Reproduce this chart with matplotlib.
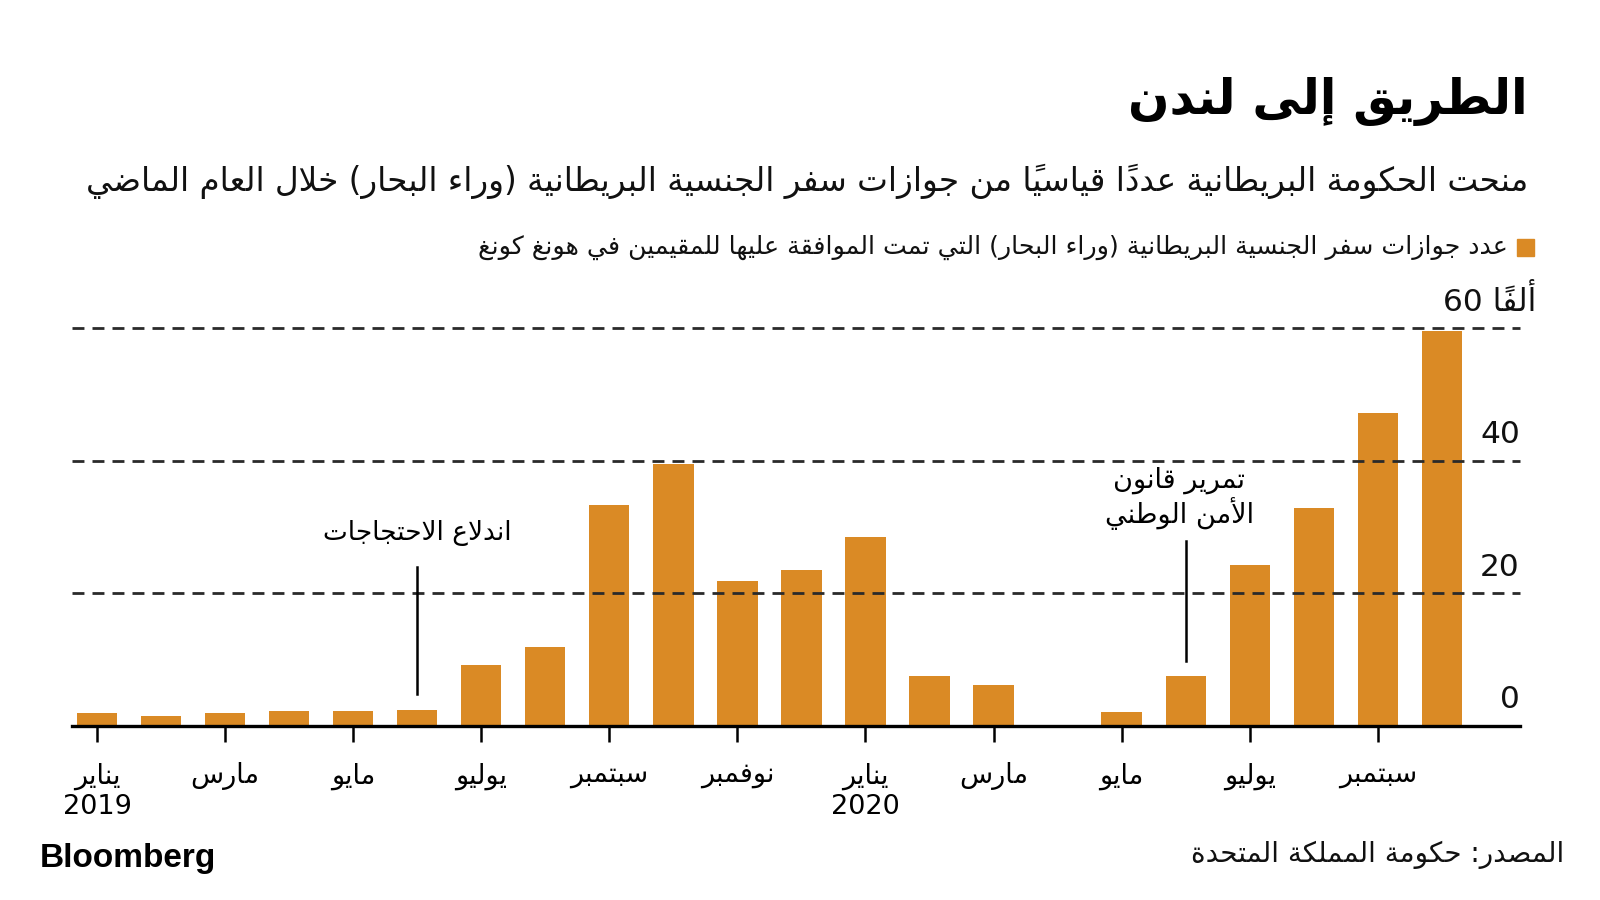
import matplotlib
matplotlib.use('Agg')
import matplotlib.pyplot as plt
from matplotlib.patches import Rectangle

plt.rcParams['font.family'] = ['DejaVu Sans']
plt.rcParams['lines.scale_dashes'] = False

# data (thousands of passports per month, Jan 2019 .. Oct 2020)
months = list(range(22))
approved = [1.9, 1.5, 1.9, 2.2, 2.2, 2.3, 9.1, 11.8, 33.3, 39.4, 21.8, 23.4,
            28.5, 7.5, 6.1, 0.0, 2.1, 7.4, 24.2, 32.9, 47.2, 59.6]
tick_pos = [0, 2, 4, 6, 8, 10, 12, 14, 16, 18, 20]
tick_labels = ['يناير\n2019', 'مارس', 'مايو', 'يوليو', 'سبتمبر', 'نوفمبر',
               'يناير\n2020', 'مارس', 'مايو', 'يوليو', 'سبتمبر']
y_ticks = [0, 20, 40, 60]
y_labels = ['0', '20', '40', 'ألفاً 60']

title = 'الطريق إلى لندن'
subtitle = 'منحت الحكومة البريطانية عدداً قياسياً من جوازات سفر الجنسية البريطانية (وراء البحار) خلال العام الماضي'
legend_label = 'عدد جوازات سفر الجنسية البريطانية (وراء البحار) التي تمت الموافقة عليها للمقيمين في هونغ كونغ'
note1 = 'اندلاع الاحتجاجات'
note2 = 'تمرير قانون\nالأمن الوطني'
source = 'المصدر: حكومة المملكة المتحدة'

BAR = '#DA8A25'

# --- minimal arabic shaping (no reshaper lib in the sandbox) ---
_ORDER = 'ءآأؤإئابةتثجحخدذرزسشصضطظعغفقكلمنهوىي'
_NFORMS = [1, 2, 2, 2, 2, 4, 2, 4, 2, 4, 4, 4, 4, 4, 2, 2, 2, 2,
           4, 4, 4, 4, 4, 4, 4, 4, 4, 4, 4, 4, 4, 4, 4, 2, 2, 4]
FORMS = {}
cp = 0xFE80
for ch, n in zip(_ORDER, _NFORMS):
    FORMS[ch] = [chr(cp + k) for k in range(n)]
    cp += n
LAM_ALEF = {'ا': 0xFEFB, 'أ': 0xFEF7, 'إ': 0xFEF9, 'آ': 0xFEF5}
MIRROR = {'(': ')', ')': '('}


def ar_line(text):
    items = []  # [forms or None, char, marks]
    i = 0
    while i < len(text):
        c = text[i]
        if c == 'ل' and i + 1 < len(text) and text[i + 1] in LAM_ALEF:
            lig = LAM_ALEF[text[i + 1]]
            items.append([[chr(lig), chr(lig + 1)], c, ''])
            i += 2
            continue
        if 0x064B <= ord(c) <= 0x0652 and items:
            items[-1][2] += c
        elif c in FORMS:
            items.append([FORMS[c], c, ''])
        else:
            items.append([None, c, ''])
        i += 1
    glyphs = []
    for k, (forms, c, marks) in enumerate(items):
        if forms is None:
            glyphs.append((MIRROR.get(c, c), c.isascii() and c.isalnum()))
            continue
        prev = items[k - 1][0] if k > 0 else None
        nxt = items[k + 1][0] if k + 1 < len(items) else None
        jp = prev is not None and len(prev) == 4
        jn = len(forms) == 4 and nxt is not None and len(nxt) >= 2
        if len(forms) == 4:
            idx = 3 if (jp and jn) else 1 if jp else 2 if jn else 0
        elif len(forms) == 2:
            idx = 1 if jp else 0
        else:
            idx = 0
        glyphs.append((forms[idx] + marks, False))
    # right-to-left, keeping latin/digit runs in order
    runs = []
    for g, ltr in glyphs:
        if ltr and runs and runs[-1][1]:
            runs[-1][0] += g
        else:
            runs.append([g, ltr])
    return ''.join(r[0] for r in reversed(runs))


def ar(text):
    return '\n'.join(ar_line(t) for t in text.split('\n'))


fig = plt.figure(figsize=(16, 9), dpi=100)
ax = fig.add_axes([72 / 1600, 1 - 725.5 / 900, (1520 - 72) / 1600, (725.5 - 328) / 900])

ax.bar(months, approved, width=0.63, color=BAR, zorder=2)
ax.set_xlim(-0.39, 22.22)
ax.set_ylim(0, 60)

for v in y_ticks[1:]:
    ax.axhline(v, color='#2a2a2a', lw=2.0, dashes=(8.6, 5.8), zorder=3, clip_on=False)

for s in ['top', 'left', 'right']:
    ax.spines[s].set_visible(False)
ax.spines['bottom'].set_linewidth(2.4)
ax.spines['bottom'].set_zorder(4)
ax.set_yticks([])
ax.set_xticks(tick_pos, [ar(t) for t in tick_labels])
ax.tick_params(axis='x', length=11.5, width=1.8, pad=15, labelsize=19.5)

ytr = ax.get_yaxis_transform()
for v, lab in zip(y_ticks, y_labels):
    xr = 1.011 if v == 60 else 1.0
    ax.text(xr, v + 2.6, ar(lab), transform=ytr, ha='right', va='baseline',
            fontsize=22.5, color='#111111')

# annotations
ax.plot([5, 5], [4.75, 23.9], color='black', lw=1.8, zorder=4)
ax.text(5, 29.1, ar(note1), ha='center', va='center', fontsize=19)
ax.plot([17, 17], [9.7, 27.8], color='black', lw=1.8, zorder=4)
ax.text(16.9, 34.3, ar(note2), ha='center', va='center', fontsize=19.5,
        multialignment='center', linespacing=1.15)

# header
fig.text(1528 / 1600, 1 - 102 / 900, ar(title), ha='right', va='center',
         fontsize=35, fontweight='bold', color='black')
fig.text(1528 / 1600, 1 - 181 / 900, ar(subtitle), ha='right', va='center',
         fontsize=23.5, color='#111111')
fig.patches.append(Rectangle((1517 / 1600, 1 - 256 / 900), 17 / 1600, 17 / 900,
                             transform=fig.transFigure, color=BAR))
fig.text(1508 / 1600, 1 - 247 / 900, ar(legend_label), ha='right', va='center',
         fontsize=18.2, color='#111111')

# footer
fig.text(40 / 1600, 1 - 866.7 / 900, 'Bloomberg', ha='left', va='baseline',
         fontsize=24, fontweight='bold', family='Liberation Sans')
fig.text(1564 / 1600, 1 - 855 / 900, ar(source), ha='right', va='center',
         fontsize=20, color='#111111')

fig.savefig('out.png', dpi=100, facecolor='white')
